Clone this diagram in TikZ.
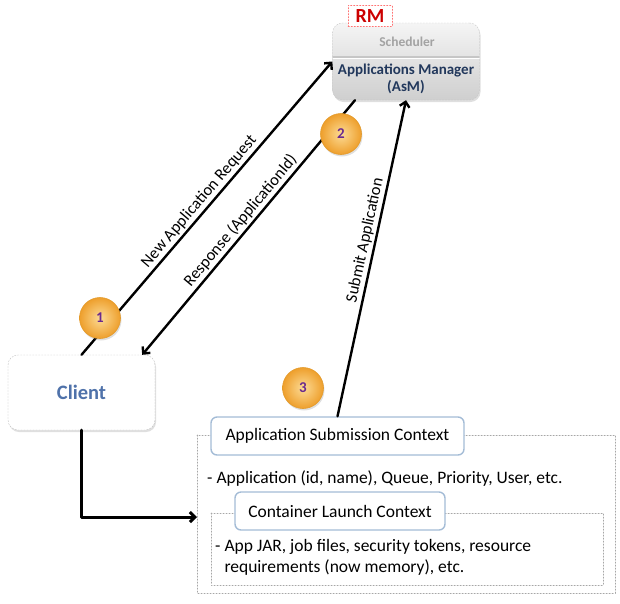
\documentclass[tikz,border=0pt]{standalone}
\usepackage{fontspec}
\setmainfont{Carlito}
\usetikzlibrary{calc,arrows.meta,shadows}
\definecolor{asmazul}{HTML}{22385C}
\definecolor{clienteazul}{HTML}{4F72AA}
\definecolor{schedgris}{HTML}{A3A3A3}
\definecolor{ctxborde}{HTML}{A4BCD6}
\definecolor{pasoclaro}{HTML}{FCDB95}
\definecolor{pasooscuro}{HTML}{EE9F2C}
\definecolor{pasoborde}{HTML}{E39A2A}
\definecolor{pasotexto}{HTML}{6A2A8E}
\tikzstyle{every path}=[line cap=round, line join=round]
\tikzstyle{flecha}=[line width=2.4pt, -{Straight Barb[length=5pt,width=10pt]}]
\tikzstyle{sombra}=[drop shadow={opacity=0.25, shadow xshift=1pt, shadow yshift=-2pt}]
\tikzstyle{rmcaja}=[rounded corners=10pt, minimum width=147pt, minimum height=77pt, top color=gray!8, bottom color=gray!38, draw=gray!45, dash pattern=on 1.5pt off 1.5pt, sombra]
\tikzstyle{clientecaja}=[rounded corners=10pt, minimum width=147pt, minimum height=75pt, fill=white, draw=gray!50, dash pattern=on 1.5pt off 1.5pt, sombra, text=clienteazul, font=\bfseries\fontsize{20.5}{23}\selectfont]
\tikzstyle{paso}=[circle, minimum size=41pt, inner sep=0pt, draw=pasoborde, line width=0.6pt, inner color=pasoclaro, outer color=pasooscuro, text=pasotexto, font=\bfseries\fontsize{15}{17}\selectfont, sombra]
\tikzstyle{contexto}=[draw=ctxborde, line width=1.4pt, rounded corners=6pt, fill=white, font=\fontsize{17.5}{20}\selectfont, inner sep=0pt]
\tikzstyle{punteado}=[draw=gray!70, dotted, line width=1pt]
\tikzstyle{etiqueta}=[font=\fontsize{16.5}{18}\selectfont, sloped, above, inner sep=2pt]
\tikzstyle{detalle}=[font=\fontsize{17.5}{21}\selectfont, inner sep=0pt]

\begin{document}
\begin{tikzpicture}[x=1pt,y=-1pt]
          \useasboundingbox (0,0) rectangle (620,603);
          %resource manager
          \node[rmcaja] (rm) at (406,61.5) {};
          \node[text=schedgris, font=\bfseries\fontsize{13.5}{15}\selectfont] (sched) at (407,42) {Scheduler};
          \draw[gray!45, line width=1.2pt] (333,57) -- (479,57);
          \draw[white, line width=1pt] (333,58.6) -- (479,58.6);
          \node[text=asmazul, align=center, font=\bfseries\fontsize{15}{17.5}\selectfont] (asm) at (406,79) {Applications Manager\\(AsM)};
          \node[draw=red!55, dash pattern=on 1.5pt off 1.5pt, fill=white, text=red!80!black, minimum width=44pt, minimum height=21pt, inner sep=0pt, font=\bfseries\fontsize{20}{22}\selectfont] (rmtag) at (370,16) {RM};
          %cliente
          \node[clientecaja] (client) at (81.5,392.5) {Client};
          %contextos
          \draw[punteado] (197,435) rectangle (615,593);
          \draw[punteado] (211,513) rectangle (603,585);
          \node[contexto, minimum width=253pt, minimum height=38pt] (asc) at (337.5,436) {Application Submission Context};
          \node[detalle, anchor=west] (ascdet) at (207,478) {- Application (id, name), Queue, Priority, User, etc.};
          \node[contexto, minimum width=210pt, minimum height=38pt] (clc) at (340,511) {Container Launch Context};
          \node[detalle, anchor=north west, align=left] (clcdet) at (215,539) {- App JAR, job files, security tokens, resource\\\phantom{- }requirements (now memory), etc.};
          %flechas
          \coordinate (ctx) at (197,517);
          \draw[flecha, line width=3pt] (client.south) |- (ctx);
          \draw[flecha] (client.north) -- node[etiqueta]{New Application Request} (rm.west);
          \draw[flecha] ([xshift=-51pt]rm.south) -- node[etiqueta]{Response (ApplicationId)} ([xshift=-13pt]client.north east);
          \draw[flecha] (asc.north) -- node[etiqueta, pos=0.55]{Submit Application} (rm.south);
          %pasos
          \node[paso] (p1) at (100,318) {1};
          \node[paso] (p2) at (341,134) {2};
          \node[paso] (p3) at (303,388) {3};
        \end{tikzpicture}
\end{document}
